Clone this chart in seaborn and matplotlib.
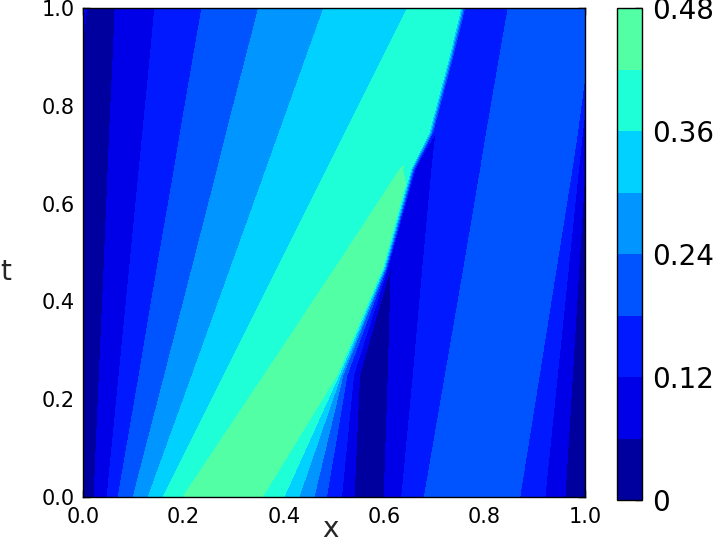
import numpy as np
import matplotlib
matplotlib.use("Agg")
import matplotlib.pyplot as plt
import seaborn as sns

t_rows = [0.0, 0.25, 0.47, 0.67, 0.745, 0.9, 1.0]

# every column follows one contour line through the rows: x position and value per row
edge0_x = [0.0, 0.0, 0.0, 0.0, 0.0, 0.0, 0.0]
edge0_u = [0.0, 0.0, 0.0, 0.0, 0.0, 0.0, 0.16]
e1_x = [0.006, 0.008, 0.009, 0.010, 0.011, 0.012, 0.012]
e1_u = [0.01] * 7
a1_x = [0.022, 0.0325, 0.042, 0.050, 0.053, 0.060, 0.064]
a1_u = [0.06] * 7
a2_x = [0.048, 0.072, 0.093, 0.112, 0.119, 0.134, 0.143]
a2_u = [0.12] * 7
a3_x = [0.070, 0.112, 0.148, 0.182, 0.194, 0.220, 0.237]
a3_u = [0.18] * 7
a4_x = [0.100, 0.163, 0.218, 0.268, 0.286, 0.325, 0.350]
a4_u = [0.24] * 7
a5_x = [0.130, 0.218, 0.295, 0.365, 0.391, 0.445, 0.480]
a5_u = [0.30] * 7
a6_x = [0.160, 0.282, 0.389, 0.486, 0.523, 0.598, 0.647]
a6_u = [0.36] * 7
a7_x = [0.200, 0.363, 0.506, 0.634, 0.684, 0.724, 0.748]
a7_u = [0.421, 0.421, 0.421, 0.421, 0.41, 0.405, 0.40]
peak_x = [0.280, 0.465, 0.595, 0.650, 0.687, 0.727, 0.751]
peak_u = [0.47, 0.47, 0.45, 0.415, 0.40, 0.395, 0.39]
d7_x = [0.357, 0.506, 0.598, 0.652, 0.689, 0.729, 0.753]
d7_u = [0.42, 0.42, 0.40, 0.38, 0.36, 0.36, 0.35]
d6_x = [0.400, 0.510, 0.600, 0.654, 0.691, 0.731, 0.755]
d6_u = [0.36, 0.36, 0.34, 0.33, 0.31, 0.31, 0.30]
d5_x = [0.430, 0.514, 0.602, 0.656, 0.693, 0.733, 0.757]
d5_u = [0.30, 0.30, 0.28, 0.27, 0.26, 0.26, 0.25]
d4_x = [0.460, 0.518, 0.604, 0.658, 0.695, 0.735, 0.759]
d4_u = [0.24, 0.24, 0.22, 0.21, 0.21, 0.21, 0.21]
d3_x = [0.485, 0.526, 0.606, 0.660, 0.697, 0.737, 0.761]
d3_u = [0.18, 0.18, 0.16, 0.16, 0.17, 0.17, 0.17]
d2_x = [0.515, 0.539, 0.608, 0.662, 0.699, 0.738, 0.762]
d2_u = [0.12, 0.12, 0.10, 0.11, 0.135, 0.15, 0.155]
d1_x = [0.540, 0.551, 0.610, 0.664, 0.700, 0.739, 0.763]
d1_u = [0.06, 0.06, 0.065, 0.10, 0.13, 0.145, 0.15]
mid_x = [0.570, 0.573, 0.612, 0.666, 0.701, 0.740, 0.764]
mid_u = [0.0, 0.01, 0.062, 0.095, 0.125, 0.142, 0.147]
r1_x = [0.600, 0.608, 0.614, 0.668, 0.702, 0.741, 0.765]
r1_u = [0.06, 0.06, 0.06, 0.09, 0.122, 0.14, 0.145]
r2_x = [0.635, 0.658, 0.677, 0.695, 0.703, 0.742, 0.766]
r2_u = [0.12, 0.12, 0.12, 0.12, 0.12, 0.138, 0.142]
r3_x = [0.680, 0.722, 0.759, 0.792, 0.804, 0.830, 0.847]
r3_u = [0.18] * 7
rpeak_x = [0.780, 0.833, 0.879, 0.921, 0.936, 0.969, 0.990]
rpeak_u = [0.225] * 7
s3_x = [0.870, 0.909, 0.943, 0.974, 0.985, 1.005, 1.020]
s3_u = [0.18] * 7
s2_x = [0.920, 0.945, 0.967, 0.987, 0.995, 1.012, 1.030]
s2_u = [0.12] * 7
s1_x = [0.960, 0.975, 0.988, 1.000, 1.005, 1.020, 1.040]
s1_u = [0.06] * 7
edge1_x = [1.000, 1.003, 1.006, 1.010, 1.012, 1.030, 1.050]
edge1_u = [0.0] * 7
far_x = [1.3] * 7
far_u = [0.0] * 7

levels = np.linspace(0, 0.48, 9)
cbar_labels = ['0', '', '0.12', '', '0.24', '', '0.36', '', '0.48']
tick_vals = [0.0, 0.2, 0.4, 0.6, 0.8, 1.0]

columns = [
    (edge0_x, edge0_u), (e1_x, e1_u), (a1_x, a1_u), (a2_x, a2_u), (a3_x, a3_u),
    (a4_x, a4_u), (a5_x, a5_u), (a6_x, a6_u), (a7_x, a7_u), (peak_x, peak_u),
    (d7_x, d7_u), (d6_x, d6_u), (d5_x, d5_u), (d4_x, d4_u), (d3_x, d3_u),
    (d2_x, d2_u), (d1_x, d1_u), (mid_x, mid_u), (r1_x, r1_u), (r2_x, r2_u),
    (r3_x, r3_u), (rpeak_x, rpeak_u), (s3_x, s3_u), (s2_x, s2_u), (s1_x, s1_u),
    (edge1_x, edge1_u), (far_x, far_u),
]
X = np.array([c[0] for c in columns]).T
U = np.array([c[1] for c in columns]).T
T = np.repeat(np.array(t_rows)[:, None], X.shape[1], axis=1)

sns.set_theme(style="ticks")
plt.rcParams['font.family'] = ['DejaVu Sans']

fig = plt.figure(figsize=(7.13, 5.44), dpi=100)
ax = fig.add_axes([83 / 713, 1 - 497 / 544, 502 / 713, 489 / 544])
cax = fig.add_axes([617 / 713, 1 - 500 / 544, 25 / 713, 492 / 544])

cf = ax.contourf(X, T, U, levels=levels, cmap='jet', vmin=0, vmax=1)
ax.set_xlim(0, 1)
ax.set_ylim(0, 1)
ax.set_xticks(tick_vals)
ax.set_yticks(tick_vals)
ax.set_xticklabels([f'{v:.1f}' for v in tick_vals])
ax.set_yticklabels([f'{v:.1f}' for v in tick_vals])
ax.tick_params(direction='in', top=True, right=True, length=5, width=1,
               labelsize=15, colors='black')
ax.tick_params(axis='x', pad=7)
ax.tick_params(axis='y', pad=6)
for sp in ax.spines.values():
    sp.set_color('black')
    sp.set_linewidth(1)

ax.text(0.492, -0.082, 'x', transform=ax.transAxes, ha='center', va='baseline', fontsize=20)
ax.text(-0.155, 0.444, 't', transform=ax.transAxes, ha='center', va='baseline', fontsize=20)

cb = fig.colorbar(cf, cax=cax, ticks=levels)
cb.ax.set_yticklabels(cbar_labels)
cax.tick_params(direction='in', length=5, width=1, labelsize=20, pad=7, colors='black')
cb.outline.set_edgecolor('black')
cb.outline.set_linewidth(1)

fig.savefig('out.png', dpi=100)
